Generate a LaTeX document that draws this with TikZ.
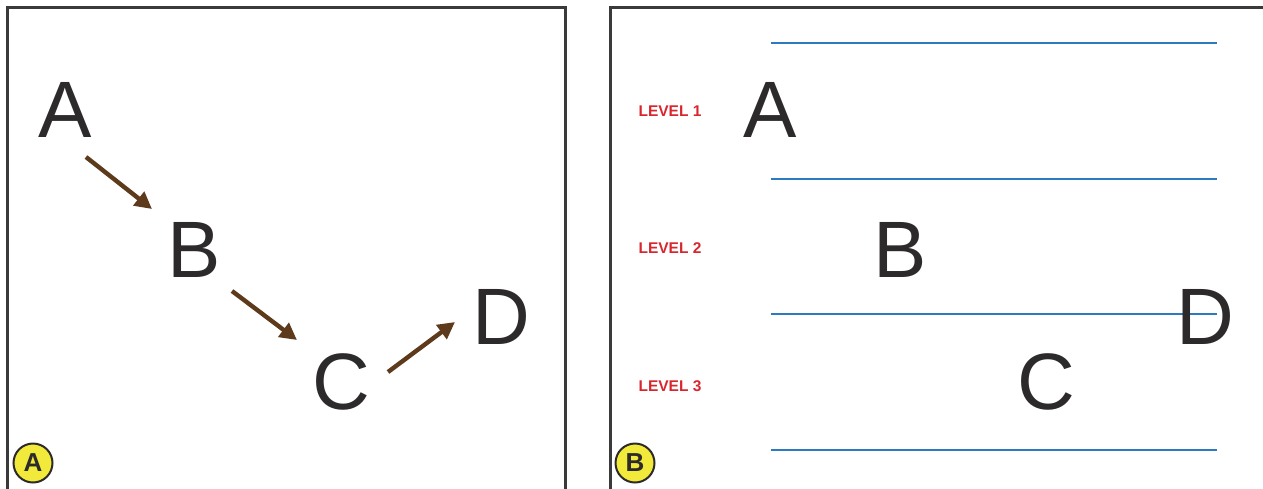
\documentclass[tikz,border=0pt]{standalone}
\usepackage{fontspec}
\setmainfont{Liberation Sans}
\usetikzlibrary{arrows.meta}
\definecolor{framec}{HTML}{3A3A3A}
\definecolor{letterc}{HTML}{2D2A2B}
\definecolor{brownc}{HTML}{5E3A1C}
\definecolor{bluec}{HTML}{2B7BBE}
\definecolor{redc}{HTML}{D8262E}
\definecolor{yellowc}{HTML}{F2EA3A}
\tikzset{
  big/.style={anchor=base, inner sep=0pt, text=letterc, font=\fontsize{80}{80}\selectfont},
  lvl/.style={anchor=base, inner sep=0pt, text=redc, font=\bfseries\fontsize{15.5}{16}\selectfont},
  arr/.style={draw=brownc, line width=4.4pt, -{Triangle[length=17pt,width=17pt]}},
  levelline/.style={draw=bluec, line width=2.8pt},
  panel/.style={draw=framec, line width=3pt},
  badge/.style={circle, draw=letterc, line width=2pt, fill=yellowc, minimum size=39pt, inner sep=0pt, text=letterc, font=\bfseries\fontsize{26}{26}\selectfont}
}
\begin{document}
\begin{tikzpicture}[x=1pt,y=-1pt]
\useasboundingbox (0,0) rectangle (1263,488);
% panels
\draw[panel] (7,500) -- (7,7) -- (565,7) -- (565,500);
\draw[panel] (610,500) -- (610,7) -- (1275,7);
% panel A letters
\node[big] (A1) at (65,137) {A};
\node[big] (B1) at (194,277) {B};
\node[big] (C1) at (341,409) {C};
\node[big] (D1) at (501,344) {D};
% arrow ends
\coordinate (a1s) at (86,157);
\coordinate (a1e) at (152,209);
\coordinate (a2s) at (232,291);
\coordinate (a2e) at (297,340);
\coordinate (a3s) at (388,372);
\coordinate (a3e) at (455,322);
\draw[arr] (a1s) -- (a1e);
\draw[arr] (a2s) -- (a2e);
\draw[arr] (a3s) -- (a3e);
% panel B level lines
\coordinate (l1a) at (771,43);  \coordinate (l1b) at (1217,43);
\coordinate (l2a) at (771,179); \coordinate (l2b) at (1217,179);
\coordinate (l3a) at (771,314); \coordinate (l3b) at (1217,314);
\coordinate (l4a) at (771,450); \coordinate (l4b) at (1217,450);
\draw[levelline] (l1a) -- (l1b);
\draw[levelline] (l2a) -- (l2b);
\draw[levelline] (l3a) -- (l3b);
\draw[levelline] (l4a) -- (l4b);
% level labels
\node[lvl] (L1) at (670,116) {LEVEL 1};
\node[lvl] (L2) at (670,253) {LEVEL 2};
\node[lvl] (L3) at (670,391) {LEVEL 3};
% panel B letters
\node[big] (A2) at (770,137) {A};
\node[big] (B2) at (900,277) {B};
\node[big] (C2) at (1046,409) {C};
\node[big] (D2) at (1205,344) {D};
% badges
\node[badge] (bA) at (33,463) {A};
\node[badge] (bB) at (635,463) {B};
\end{tikzpicture}
\end{document}
